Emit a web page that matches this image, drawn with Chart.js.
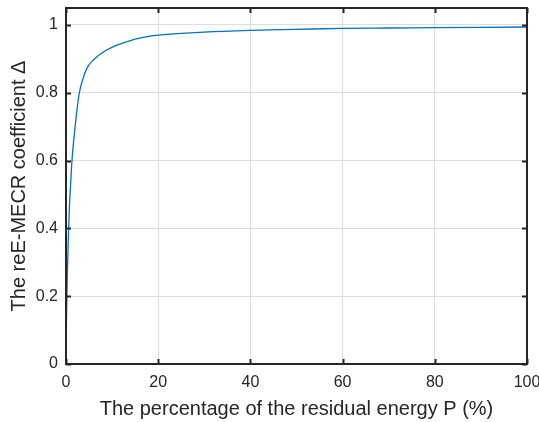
<!DOCTYPE html>
<html>
<head>
<meta charset="UTF-8">
<title>reE-MECR coefficient</title>
<script src="https://cdn.jsdelivr.net/npm/chart.js"></script>
<style>
  html, body { margin: 0; padding: 0; background: #fff; }
  #wrap { width: 539px; height: 422px; }
</style>
</head>
<body>
<div id="wrap"><canvas id="chart" width="539" height="422"></canvas></div>
<script>
// values
const percentP = [0, 0.1, 0.3, 0.5, 0.7, 1.0, 1.3, 1.75, 2.3, 2.9, 3.6, 4.6, 6.1, 8.2, 10.4, 12.6, 15, 18.2, 20, 30, 40, 50, 60, 70, 80, 90, 100];
const deltaVals = [0, 0.13, 0.27, 0.37, 0.45, 0.53, 0.6, 0.67, 0.74, 0.8, 0.838, 0.874, 0.899, 0.921, 0.937, 0.948, 0.958, 0.967, 0.97, 0.979, 0.984, 0.987, 0.99, 0.991, 0.992, 0.993, 0.994];
const xTicks = [0, 20, 40, 60, 80, 100];
const yTicks = [0, 0.2, 0.4, 0.6, 0.8, 1];
const yTickLabels = ['0', '0.2', '0.4', '0.6', '0.8', '1'];

const axisColor = '#262626';
const fontFam = '"Liberation Sans", Arial, Helvetica, sans-serif';

// MATLAB style box with ticks pointing inwards
const boxPlugin = {
  id: 'boxPlugin',
  afterDraw(chart) {
    const ctx = chart.ctx;
    const a = chart.chartArea;
    const xs = chart.scales.x, ys = chart.scales.y;
    const tl = 5;
    ctx.save();
    ctx.strokeStyle = axisColor;
    ctx.lineWidth = 2;
    ctx.beginPath();
    xTicks.forEach(v => {
      const px = Math.round(xs.getPixelForValue(v)) + 0.5;
      ctx.moveTo(px, a.bottom); ctx.lineTo(px, a.bottom - tl);
      ctx.moveTo(px, a.top); ctx.lineTo(px, a.top + tl);
    });
    yTicks.forEach(v => {
      const py = Math.round(ys.getPixelForValue(v)) + 0.5;
      ctx.moveTo(a.left, py); ctx.lineTo(a.left + tl, py);
      ctx.moveTo(a.right, py); ctx.lineTo(a.right - tl, py);
    });
    ctx.stroke();
    ctx.strokeRect(a.left, a.top, a.right - a.left, a.bottom - a.top);
    ctx.restore();
  }
};

new Chart(document.getElementById('chart'), {
  type: 'line',
  data: {
    datasets: [{
      data: percentP.map((p, i) => ({ x: p, y: deltaVals[i] })),
      borderColor: '#0072BD',
      borderWidth: 1.3,
      pointRadius: 0,
      fill: false,
      cubicInterpolationMode: 'monotone'
    }]
  },
  options: {
    responsive: false,
    animation: false,
    layout: { padding: { top: 8, right: 12, left: 0, bottom: 0 } },
    plugins: { legend: { display: false }, tooltip: { enabled: false } },
    scales: {
      x: {
        type: 'linear',
        min: 0, max: 100,
        afterBuildTicks: s => { s.ticks = xTicks.map(v => ({ value: v })); },
        afterFit: s => { s.height = 58; s.paddingLeft = 0; s.paddingRight = 0; },
        grid: { color: '#dedede', lineWidth: 1, drawTicks: false },
        border: { display: false },
        ticks: { color: axisColor, font: { family: fontFam, size: 16 }, padding: 9, maxRotation: 0 },
        title: {
          display: true,
          text: 'The percentage of the residual energy P (%)',
          color: axisColor,
          font: { family: fontFam, size: 20 },
          padding: { top: 0, bottom: 1 }
        }
      },
      y: {
        type: 'linear',
        min: 0, max: 1.05,
        afterBuildTicks: s => { s.ticks = yTicks.map(v => ({ value: v })); },
        afterFit: s => { s.width = 66; s.paddingTop = 0; s.paddingBottom = 0; },
        grid: { color: '#dedede', lineWidth: 1, drawTicks: false },
        border: { display: false },
        ticks: {
          color: axisColor, font: { family: fontFam, size: 16 }, padding: 8,
          callback: (v, i) => yTickLabels[i]
        },
        title: {
          display: true,
          text: 'The reE-MECR coefficient \u0394',
          color: axisColor,
          font: { family: fontFam, size: 20 },
          padding: { top: 7, bottom: 0 }
        }
      }
    }
  },
  plugins: [boxPlugin]
});
</script>
</body>
</html>
